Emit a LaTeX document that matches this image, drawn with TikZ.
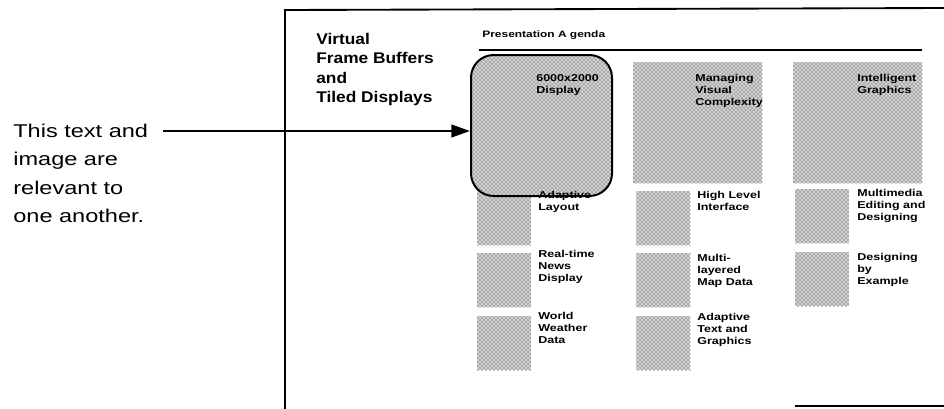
\documentclass[tikz,border=0pt]{standalone}
\usepackage{fontspec}
\setmainfont{Liberation Sans}
\usetikzlibrary{arrows.meta,patterns}

\begin{document}
\begin{tikzpicture}[
    x=0.75pt, y=-0.75pt,
    >={Triangle[length=14pt,width=9.5pt]},
    stipple/.style={preaction={fill=gray!35}, pattern=crosshatch dots, pattern color=black!85},
    tile/.style={stipple, inner sep=0pt, anchor=north west,
      minimum width=40.5pt, minimum height=40.5pt},
    bigtile/.style={tile, minimum width=96.75pt, minimum height=90.75pt},
    caption/.style={anchor=north west, inner sep=0pt, align=left,
      font=\bfseries\fontsize{7.5}{9}\selectfont, xscale=1.25, transform shape},
    heading/.style={anchor=north west, inner sep=0pt, align=left,
      font=\bfseries\fontsize{11.6}{14.5}\selectfont, xscale=1.12, transform shape},
    note/.style={anchor=north west, inner sep=0pt, align=left,
      font=\fontsize{13.9}{21.2}\selectfont, xscale=1.27, transform shape}
  ]
  \useasboundingbox (0,0) rectangle (944,408);

  % page frame
  \draw[line width=1.4pt] (944,8) -- (285,10) -- (285,410);
  \draw[line width=1.2pt] (795,406) -- (944,406);

  % left remark
  \node[note] (remark) at (13,124) {This text and\\image are\\relevant to\\one another.};
  \coordinate (tail) at (163,131);

  % slide title and agenda
  \node[heading] (title) at (316,33) {Virtual\\Frame Buffers\\and\\Tiled Displays};
  \node[anchor=base west, inner sep=0pt, font=\bfseries\fontsize{7}{8}\selectfont,
    xscale=1.28, transform shape] (agenda) at (482,37) {Presentation A genda};
  \draw[line width=2.2pt] (479,50) -- (922,50);

  % tiles
  \node[bigtile] (b0) at (633,62) {};
  \node[bigtile] (c0) at (793,62) {};
  \node[tile] (a1) at (477,191) {};
  \node[tile] (a2) at (477,253) {};
  \node[tile] (a3) at (477,316) {};
  \node[tile] (b1) at (636,191) {};
  \node[tile] (b2) at (636,253) {};
  \node[tile] (b3) at (636,316) {};
  \node[tile] (c1) at (795,189) {};
  \node[tile] (c2) at (795,252) {};

  % highlighted item
  \node[
    draw,
    line width=1.5pt,
    rounded corners=17pt,
    stipple,
    inner sep=0pt,
    minimum width=105.75pt,
    minimum height=105.75pt
  ] (focus) at (541.5,125.5) {};

  % captions
  \node[caption] at (536,74) {6000x2000\\Display};
  \node[caption] at (695,74) {Managing\\Visual\\Complexity};
  \node[caption] at (857,74) {Intelligent\\Graphics};
  \node[caption] at (538,191) {Adaptive\\Layout};
  \node[caption] at (538,250) {Real-time\\News\\Display};
  \node[caption] at (538,312) {World\\Weather\\Data};
  \node[caption] at (697,191) {High Level\\Interface};
  \node[caption] at (697,254) {Multi-\\layered\\Map Data};
  \node[caption] at (697,313) {Adaptive\\Text and\\Graphics};
  \node[caption] at (857,189) {Multimedia\\Editing and\\Designing};
  \node[caption] at (857,253) {Designing\\by\\Example};

  \draw[->,line width=1.6pt] (tail) -- (tail -| focus.west);
\end{tikzpicture}
\end{document}
